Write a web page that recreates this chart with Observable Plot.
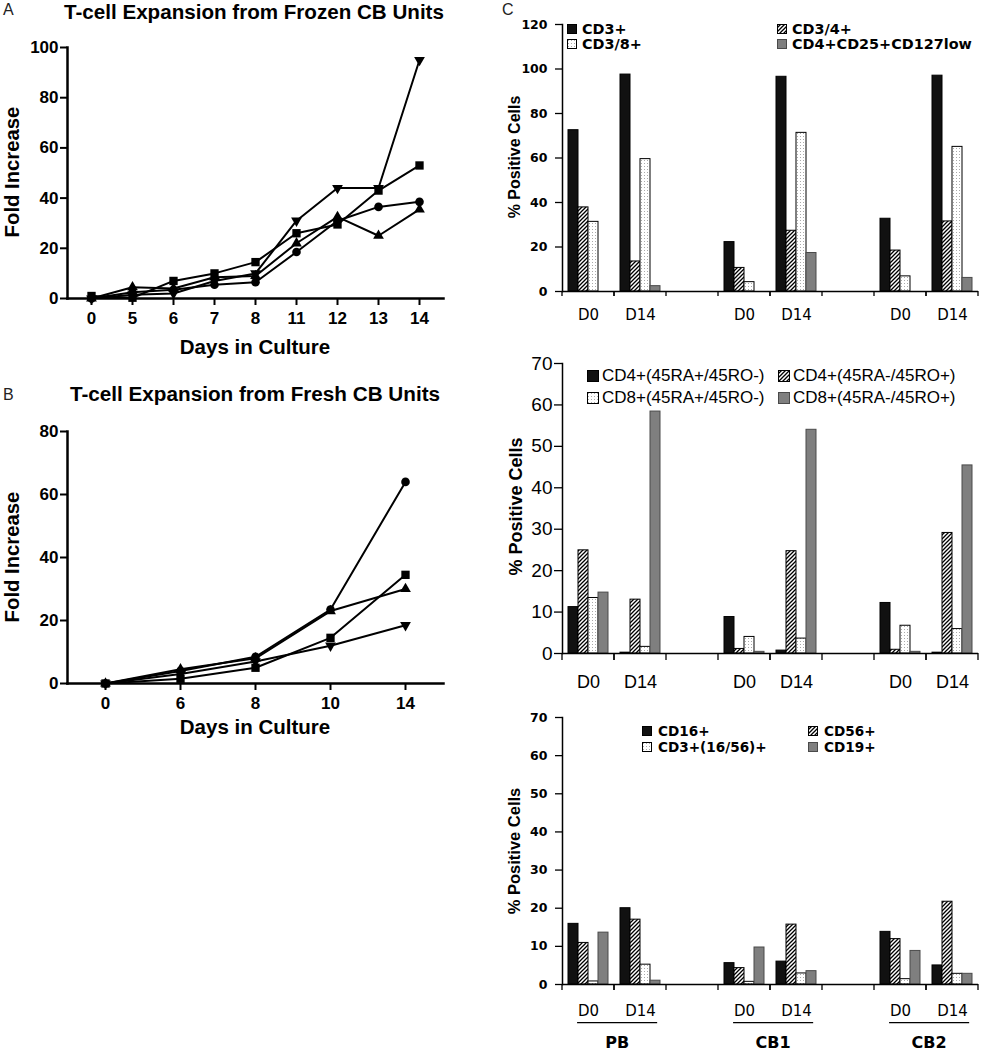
<!DOCTYPE html>
<html><head><meta charset="utf-8">
<script src="https://cdn.jsdelivr.net/npm/d3@7"></script>
<script src="https://cdn.jsdelivr.net/npm/@observablehq/plot@0.6"></script>
<style>
html,body{margin:0;padding:0;background:#fff;}
#root{position:relative;width:981px;height:1050px;overflow:hidden;background:#fff;color:#000;}
.leg{position:absolute;display:flex;align-items:center;white-space:nowrap;line-height:1;height:20px;}
.leg svg{display:block;flex:none;}
</style></head><body>
<svg width="0" height="0" style="position:absolute;left:0;top:0">
<defs>
<pattern id="hatch" patternUnits="userSpaceOnUse" width="4" height="4">
<rect width="4" height="4" fill="#fff"/>
<path d="M-1,1 l2,-2 M0,4 l4,-4 M3,5 l2,-2" stroke="#000" stroke-width="1.3"/>
</pattern>
<pattern id="dots" patternUnits="userSpaceOnUse" width="3" height="3">
<rect width="3" height="3" fill="#fff"/>
<rect x="1" y="1" width="1" height="1" fill="#aaaaaa"/>
</pattern>
</defs></svg>
<div id="root"></div>
<script>
// ---------- Panel A: frozen CB units ----------
const frozenDays = ["0","5","6","7","8","11","12","13","14"];
const frozenCircle = [0, 2.5, 3.5, 5.5, 6.5, 18.5, 31, 36.5, 38.5];
const frozenSquare = [1, 0.3, 7, 10, 14.5, 26, 29.5, 43, 53];
const frozenUp     = [0, 4.5, 4, 8.5, 9, 22, 32.5, 25, 35.5];
const frozenDown   = [0, 1.5, 2, 7, 10, 31, 44, 44, 95];

// ---------- Panel B: fresh CB units ----------
const freshDays = ["0","6","8","10","14"];
const freshCircle = [0, 4, 8.5, 23.5, 64];
const freshSquare = [0, 1.5, 5, 14.5, 34.5];
const freshUp     = [0, 4.5, 8, 23, 30];
const freshDown   = [0, 3, 7, 12, 18.5];

// ---------- Panel C: phenotypes (order PB D0, PB D14, CB1 D0, CB1 D14, CB2 D0, CB2 D14) ----------
const groups = ["PB", "CB1", "CB2"];
const days = ["D0", "D14"];

const tcellLabels = ["CD3+", "CD3/4+", "CD3/8+", "CD4+CD25+CD127low"];
const cd3  = [72.5, 97.5, 22.2, 96.5, 32.7, 97];
const cd34 = [37.8, 13.5, 10.6, 27.3, 18.4, 31.5];
const cd38 = [31.3, 59.5, 4.2, 71.3, 6.8, 65];
const treg = [0, 2.4, 0, 17.3, 0, 6.1];

const memLabels = ["CD4+(45RA+/45RO-)", "CD4+(45RA-/45RO+)", "CD8+(45RA+/45RO-)", "CD8+(45RA-/45RO+)"];
const cd4Naive = [11.2, 0.2, 8.8, 0.7, 12.2, 0.2];
const cd4Mem   = [24.9, 13, 1.1, 24.7, 0.9, 29.1];
const cd8Naive = [13.4, 1.6, 4.0, 3.6, 6.7, 5.9];
const cd8Mem   = [14.7, 58.4, 0.4, 54, 0.4, 45.4];

const nkLabels = ["CD16+", "CD56+", "CD3+(16/56)+", "CD19+"];
const cd16 = [15.9, 20, 5.6, 6.0, 13.8, 5.0];
const cd56 = [10.9, 17, 4.3, 15.7, 11.9, 21.7];
const nkt  = [0.8, 5.2, 0.7, 2.9, 1.4, 2.8];
const cd19 = [13.6, 1.0, 9.7, 3.5, 8.8, 2.8];

// ---------- styles ----------
const LIB = "'Liberation Sans', Arial, sans-serif";
const DJV = "'DejaVu Sans', sans-serif";
const FILLS = ["#111", "url(#hatch)", "url(#dots)", "#7f7f7f"];
const STROKES = ["#000", "#000", "#000", "#4a4a4a"];

const root = document.getElementById("root");
function place(node, left, top) {
  node.style.position = "absolute";
  node.style.left = left + "px";
  node.style.top = top + "px";
  root.appendChild(node);
  return node;
}

const downTriangle = {
  draw(ctx, size) {
    const s3 = Math.sqrt(3);
    const y = -Math.sqrt(size / (s3 * 3));
    ctx.moveTo(0, -2 * y);
    ctx.lineTo(-s3 * y, y);
    ctx.lineTo(s3 * y, y);
    ctx.closePath();
  }
};

function lineChart(dayList, series, yMax, cfg) {
  const lineMarks = [], dotMarks = [];
  for (const s of series) {
    const rows = dayList.map((d, i) => ({day: d, value: s.values[i]}));
    lineMarks.push(Plot.line(rows, {x: "day", y: "value", stroke: "#000", strokeWidth: 2}));
    dotMarks.push(Plot.dot(rows, {x: "day", y: "value", symbol: s.symbol, r: s.r, fill: "#000", stroke: "none"}));
  }
  return Plot.plot({
    width: 470, height: cfg.height,
    marginLeft: 67, marginRight: 27, marginTop: cfg.marginTop, marginBottom: cfg.marginBottom,
    style: {fontFamily: LIB, fontSize: "17px", fontWeight: "bold", color: "#000", background: "none", overflow: "visible"},
    x: {type: "point", domain: dayList, padding: 0.5, label: null},
    y: {domain: [0, yMax], label: null},
    marks: [
      Plot.axisX({tickSize: 7, tickPadding: 6, strokeWidth: 2, label: null}),
      Plot.axisY({ticks: d3.range(0, yMax + 1, 20), tickSize: 7, tickPadding: 2, strokeWidth: 2, label: null}),
      Plot.frame({anchor: "left", strokeWidth: 2.5}),
      Plot.frame({anchor: "bottom", strokeWidth: 2.5}),
      ...lineMarks,
      ...dotMarks
    ]
  });
}

// slots for bar charts
const slots = [];
groups.forEach((g, i) => {
  days.forEach(d => slots.push(g + "|" + d));
  if (i < groups.length - 1) slots.push("gap" + i);
});
const dataSlots = slots.filter(s => !s.startsWith("gap"));
const slotLabel = k => (k.startsWith("gap") ? "" : k.split("|")[1]);

function slotTicks(len, sw) {
  return function (index, scales, values, dimensions) {
    const xs = scales.x;
    let a, b;
    if (xs && typeof xs.range === "function") [a, b] = xs.range();
    else { a = dimensions.marginLeft; b = dimensions.width - dimensions.marginRight; }
    const y0 = scales.y(0);
    const g = d3.create("svg:g").attr("stroke", "#000").attr("stroke-width", sw);
    for (const x of [a, b]) g.append("line").attr("x1", x).attr("x2", x).attr("y1", y0).attr("y2", y0 + len);
    return g.node();
  };
}

function barChart(labels, valueArrays, cfg) {
  const rows = [];
  labels.forEach((lab, j) => valueArrays[j].forEach((v, k) => rows.push({slot: dataSlots[k], series: lab, value: v})));
  const bars = labels.map((lab, j) => Plot.barY(rows.filter(r => r.series === lab), {
    fx: "slot", x: "series", y: "value", fill: FILLS[j], stroke: STROKES[j], strokeWidth: 1
  }));
  return Plot.plot({
    width: 481, height: cfg.height,
    marginLeft: 61, marginRight: 3, marginTop: cfg.marginTop, marginBottom: cfg.marginBottom,
    style: {fontFamily: cfg.family, fontSize: cfg.tickFont + "px", color: "#000", background: "none", overflow: "visible"},
    fx: {domain: slots, padding: 0, label: null},
    x: {domain: labels, paddingInner: 0, paddingOuter: 0.6, axis: null, label: null},
    y: {domain: [0, cfg.yMax], label: null},
    marks: [
      ...bars,
      Plot.ruleY([0], {stroke: "#000", strokeWidth: 1.5}),
      Plot.ruleY([0], {stroke: "#000", strokeWidth: 1.5, facetAnchor: "empty"}),
      Plot.frame({anchor: "left", facetAnchor: "left", strokeWidth: 1.5}),
      Plot.axisY({ticks: d3.range(0, cfg.yMax + 1, cfg.step), tickSize: cfg.ytickSize, tickPadding: cfg.ytickPad, facetAnchor: "left",
                  fontSize: cfg.tickFont, fontWeight: cfg.tickWeight, fontFamily: cfg.family, strokeWidth: 1.3, label: null}),
      Plot.axisFx({anchor: "bottom", tickSize: 0, tickPadding: cfg.fxPad, tickFormat: slotLabel,
                   fontSize: cfg.dayFont, fontFamily: cfg.dayFamily, fontWeight: "normal", label: null}),
      slotTicks(cfg.xtick, 1.3)
    ]
  });
}

// ---------- draw panel A and B ----------
place(lineChart(frozenDays, [
  {values: frozenCircle, symbol: "circle", r: 4.3},
  {values: frozenSquare, symbol: "square", r: 4.7},
  {values: frozenUp, symbol: "triangle", r: 4},
  {values: frozenDown, symbol: downTriangle, r: 4}
], 100, {height: 300, marginTop: 17, marginBottom: 32}), 0, 30);

place(lineChart(freshDays, [
  {values: freshCircle, symbol: "circle", r: 4.3},
  {values: freshSquare, symbol: "square", r: 4.7},
  {values: freshUp, symbol: "triangle", r: 4},
  {values: freshDown, symbol: downTriangle, r: 4}
], 80, {height: 310, marginTop: 21, marginBottom: 37}), 0, 410);

// ---------- draw panel C ----------
place(barChart(tcellLabels, [cd3, cd34, cd38, treg], {
  height: 330, marginTop: 24, marginBottom: 39, yMax: 120, step: 20,
  family: DJV, tickFont: 12.5, tickWeight: "bold", ytickSize: 7, ytickPad: 8,
  dayFamily: DJV, dayFont: 15, fxPad: 18, xtick: 5
}), 500, 0);

place(barChart(memLabels, [cd4Naive, cd4Mem, cd8Naive, cd8Mem], {
  height: 360, marginTop: 23, marginBottom: 47, yMax: 70, step: 10,
  family: LIB, tickFont: 19, tickWeight: "normal", ytickSize: 8, ytickPad: 2,
  dayFamily: LIB, dayFont: 18, fxPad: 22, xtick: 7
}), 500, 340);

const bottom = place(barChart(nkLabels, [cd16, cd56, nkt, cd19], {
  height: 350, marginTop: 17, marginBottom: 66, yMax: 70, step: 10,
  family: DJV, tickFont: 12.5, tickWeight: "bold", ytickSize: 7, ytickPad: 8,
  dayFamily: DJV, dayFont: 15, fxPad: 21, xtick: 6
}), 500, 700);

// group labels with underline, positioned from the fx scale
{
  const fx = bottom.scale("fx");
  const y = bottom.scale("y");
  const bw = fx.bandwidth;
  const y0 = y.apply(0);
  const sel = d3.select(bottom);
  for (const g of groups) {
    const x0 = fx.apply(g + "|" + days[0]);
    sel.append("line").attr("x1", x0 + 0.29 * bw).attr("x2", x0 + 1.83 * bw)
      .attr("y1", y0 + 38.7).attr("y2", y0 + 38.7).attr("stroke", "#000").attr("stroke-width", 1.3);
    sel.append("text").attr("x", x0 + 1.06 * bw).attr("y", y0 + 63.5).attr("text-anchor", "middle")
      .attr("font-family", DJV).attr("font-weight", "bold").attr("font-size", 16).attr("fill", "#000").text(g);
  }
}

// ---------- legends ----------
function legend(entries, font, sw, gap) {
  for (const e of entries) {
    const div = document.createElement("div");
    div.className = "leg";
    div.style.left = e.x + "px";
    div.style.top = (e.y - 10) + "px";
    div.style.font = font;
    div.innerHTML = `<svg width="${sw}" height="${sw}" style="margin-right:${gap}px"><rect x="0.5" y="0.5" width="${sw - 1}" height="${sw - 1}" fill="${e.fill}" stroke="${e.stroke}"/></svg><span></span>`;
    div.querySelector("span").textContent = e.label;
    root.appendChild(div);
  }
}
function legendEntries(labels, cols, rowsY) {
  const order = [[0, 0, 0], [1, 1, 0], [2, 0, 1], [3, 1, 1]];
  return order.map(([j, c, r]) => ({label: labels[j], fill: FILLS[j], stroke: STROKES[j], x: cols[c], y: rowsY[r]}));
}
legend(legendEntries(tcellLabels, [567, 777], [28.5, 44]), `bold 14.4px ${DJV}`, 10, 5);
legend(legendEntries(memLabels, [587, 778], [375.5, 397.5]), `normal 17px ${LIB}`, 12, 3);
legend(legendEntries(nkLabels, [642, 808], [730.5, 746.5]), `bold 13.6px ${DJV}`, 10, 6);

// ---------- titles and axis labels ----------
const ov = d3.select(root).append("svg").attr("width", 981).attr("height", 1050)
  .style("position", "absolute").style("left", "0px").style("top", "0px").style("pointer-events", "none");
function txt(x, y, s, o = {}) {
  const t = ov.append("text")
    .attr("font-family", o.family || LIB)
    .attr("font-size", o.size || 20.5)
    .attr("font-weight", o.weight || "bold")
    .attr("fill", o.fill || "#000")
    .attr("text-anchor", o.anchor || "middle")
    .text(s);
  if (o.rotate) t.attr("transform", `translate(${x},${y}) rotate(-90)`);
  else t.attr("x", x).attr("y", y);
}
txt(3, 15, "A", {size: 16, weight: "normal", anchor: "start", fill: "#222"});
txt(254, 19, "T-cell Expansion from Frozen CB Units", {size: 20.6});
txt(19, 172, "Fold Increase", {rotate: true, size: 20.3});
txt(255, 354, "Days in Culture");
txt(3, 400, "B", {size: 16, weight: "normal", anchor: "start", fill: "#222"});
txt(255, 401, "T-cell Expansion from Fresh CB Units", {size: 20.7});
txt(19, 557, "Fold Increase", {rotate: true, size: 20.3});
txt(255, 734, "Days in Culture");
txt(502, 15, "C", {size: 16, weight: "normal", anchor: "start", fill: "#222"});
txt(520, 157, "% Positive Cells", {size: 16, rotate: true});
txt(522, 506.5, "% Positive Cells", {size: 18, rotate: true});
txt(520, 851, "% Positive Cells", {size: 16.5, rotate: true});
</script>
</body></html>
